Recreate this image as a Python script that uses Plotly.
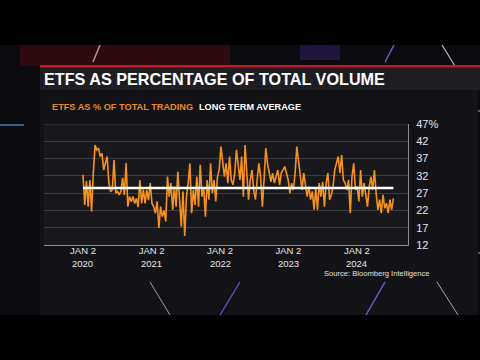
import plotly.graph_objects as go
import pandas as pd

# ---------------- data ----------------
etf_share_pct = [
    # 2020
    32.3, 23.6, 30.5, 23.1, 30.8, 21.7, 33.0, 40.9, 39.5, 40.0, 37.6, 38.5, 33.7, 35.5, 37.6, 30.0,
    27.4, 28.0, 36.6, 27.0, 27.5, 26.5, 27.5, 31.4, 26.5, 35.7, 23.1, 26.0, 24.5, 26.0, 24.0, 25.5,
    23.0, 30.8, 24.0, 28.0, 24.0, 27.9, 25.0, 29.9, 24.0, 23.1, 21.2, 24.6, 16.9, 23.1, 20.2, 22.0,
    # 2021
    18.8, 31.8, 26.0, 29.9, 22.2, 28.9, 23.1, 33.2, 26.0, 17.3, 27.5, 14.6, 26.0, 29.9, 35.6, 21.2,
    27.9, 23.6, 31.8, 23.1, 35.2, 26.0, 28.4, 20.2, 30.8, 25.1, 35.6, 27.0, 30.8, 24.6, 31.8, 33.7,
    40.5, 35.6, 31.8, 35.6, 29.9, 37.6, 30.8,
    # 2022
    29.4, 32.8, 39.5, 34.7, 30.8, 37.6, 26.0, 40.9, 32.8, 25.1, 30.8, 33.7, 27.9, 25.1, 30.8, 35.6,
    31.8, 23.1, 30.8, 40.0, 35.6, 32.8, 30.3, 32.8, 29.9, 31.8, 33.7, 29.4, 32.8, 33.7, 34.7, 32.8,
    30.8, 27.0, 29.9, 27.9, 32.8, 40.5, 35.6, 30.8, 27.9, 32.8, 28.9, 26.0,
    # 2023 - 2024
    28.9, 25.1, 27.5, 22.2, 28.4, 22.2, 29.9, 26.0, 30.3, 23.1, 29.9, 32.8, 25.1, 26.5, 28.9, 33.7,
    35.6, 37.6, 32.8, 38.0, 30.8, 29.9, 27.9, 30.8, 21.2, 31.8, 35.6, 27.9, 28.9, 24.6, 33.7, 26.0,
    29.9, 27.0, 23.1, 28.9, 31.8, 27.9, 33.7, 27.0, 22.2, 25.1, 21.2, 26.5, 22.6, 24.1, 21.2, 25.1,
    22.2, 25.5,
]
first_date = "2020-01-02"
last_date = "2024-07-15"
long_term_average = 28.5

x_tick_dates = ["2020-01-02", "2021-01-02", "2022-01-02", "2023-01-02", "2024-01-02"]
x_tick_labels = ["JAN 2", "JAN 2", "JAN 2", "JAN 2", "JAN 2"]
x_tick_years = ["2020", "2021", "2022", "2023", "2024"]
y_tick_values = [12, 17, 22, 27, 32, 37, 42, 47]
y_tick_labels = ["12", "17", "22", "27", "32", "37", "42", "47%"]

dates = pd.date_range(first_date, last_date, periods=len(etf_share_pct))

# ---------------- geometry helpers (pixel -> paper) ----------------
W, H = 480, 360
L, R, T, B = 44, 408, 124, 245
FONT = "Liberation Sans, Arial, sans-serif"


def px(x):
    return (x - L) / (R - L)


def py(y):
    return (B - y) / (B - T)


def rect(x0, y0, x1, y1, color, layer="below"):
    return dict(type="rect", xref="paper", yref="paper", x0=px(x0), x1=px(x1), y0=py(y1), y1=py(y0),
                fillcolor=color, line=dict(width=0), layer=layer)


def seg(x0, y0, x1, y1, color, width=1.2):
    return dict(type="line", xref="paper", yref="paper", x0=px(x0), x1=px(x1), y0=py(y0), y1=py(y1),
                line=dict(color=color, width=width), layer="below")


shapes = [
    rect(0, 45, 480, 315, "#0a0a0f"),
    rect(20, 45, 230, 66, "rgba(90,12,18,0.45)"),
    rect(300, 45, 340, 60, "rgba(70,40,150,0.35)"),
    seg(100, 45, 93, 62, "#c98a86", 1.5),
    seg(394, 45, 385, 62, "#6a5ad0", 1.5),
    seg(442, 45, 455, 66, "#bbbbbb", 1.2),
    seg(0, 125, 24, 125, "#4aa6d6", 1.2),
    seg(452, 111, 480, 111, "#4aa6d6", 1.2),
    seg(452, 253, 480, 253, "#4aa6d6", 1.2),
    rect(40, 66, 478, 315, "#131317"),
    seg(150, 282, 170, 315, "#9a9aa8", 1.0),
    seg(240, 282, 220, 315, "#6a5ad0", 1.2),
    seg(385, 282, 366, 315, "#6a5ad0", 1.5),
    seg(437, 282, 458, 315, "#aaaaaa", 1.0),
    rect(40, 67, 480, 90, "#1e1e22"),
    rect(40, 65, 480, 67.5, "#c8161d"),
    rect(L, T, R, B, "#18181d"),
    dict(type="line", xref="paper", yref="y", x0=0, x1=1, y0=47, y1=47,
         line=dict(color="#3c3c43", width=1), layer="below"),
]

fig = go.Figure()
fig.add_trace(go.Scatter(x=dates, y=etf_share_pct, mode="lines",
                         line=dict(color="#f5921e", width=1.6), hoverinfo="skip"))
fig.add_trace(go.Scatter(x=[dates[0], dates[-1]], y=[long_term_average, long_term_average], mode="lines",
                         line=dict(color="#ffffff", width=2.6), hoverinfo="skip"))

annotations = [
    dict(text="<b>ETFS AS PERCENTAGE OF TOTAL VOLUME</b>", x=px(42), y=py(78.5), xanchor="left",
         yanchor="middle", font=dict(family=FONT, size=16.2, color="#ffffff")),
    dict(text="<b>ETFS AS % OF TOTAL TRADING</b>", x=px(50), y=py(107), xanchor="left", yanchor="middle",
         font=dict(family=FONT, size=9.2, color="#e8892a")),
    dict(text="<b>LONG TERM AVERAGE</b>", x=px(197), y=py(107), xanchor="left", yanchor="middle",
         font=dict(family=FONT, size=9.2, color="#ffffff")),
    dict(text="Source: Bloomberg Intelligence", x=px(432), y=py(273), xanchor="right", yanchor="middle",
         font=dict(family=FONT, size=7.6, color="#e0e0e0")),
]
for a in annotations:
    a.update(xref="paper", yref="paper", showarrow=False)

for d, yr in zip(x_tick_dates, x_tick_years):
    annotations.append(dict(text=yr, x=d, xref="x", y=py(263.5), yref="paper", xanchor="center",
                            yanchor="middle", showarrow=False,
                            font=dict(family=FONT, size=9.5, color="#e6e6e6")))

fig.update_layout(
    width=W, height=H, autosize=False,
    margin=dict(l=L, r=W - R, t=T, b=H - B, pad=0),
    paper_bgcolor="#000000", plot_bgcolor="rgba(0,0,0,0)",
    showlegend=False,
    shapes=shapes, annotations=annotations,
    xaxis=dict(type="date", range=["2019-06-08", "2024-10-01"], tickvals=x_tick_dates, ticktext=x_tick_labels,
               showgrid=False, zeroline=False, showline=True, linecolor="#8c8c90", linewidth=1,
               ticks="", ticklabelstandoff=-3,
               tickfont=dict(family=FONT, size=9.5, color="#e6e6e6")),
    yaxis=dict(side="right", range=[12, 47], tickvals=y_tick_values, ticktext=y_tick_labels,
               showgrid=True, gridcolor="#3c3c43", gridwidth=1, zeroline=False,
               showline=True, linecolor="#8c8c90", linewidth=1, ticks="",
               ticklabelstandoff=5,
               tickfont=dict(family=FONT, size=11, color="#e6e6e6")),
)

fig.write_html("out.html", config={"displayModeBar": False, "staticPlot": True},
               post_script="document.body.style.margin='0px';document.body.style.overflow='hidden';")
